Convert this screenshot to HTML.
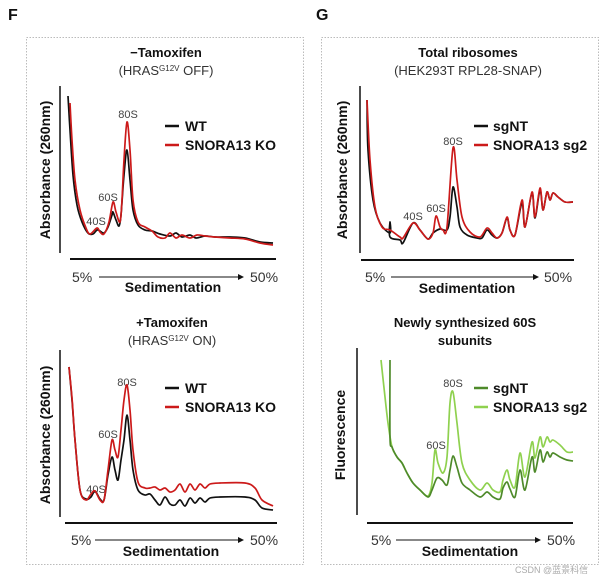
<!DOCTYPE html>
<html><head><meta charset="utf-8"><style>
body{margin:0;background:#fff}
svg{display:block;font-family:"Liberation Sans","Noto Sans CJK SC",sans-serif}
.b{font-weight:bold}
</style></head><body>
<svg id="fig" width="611" height="579" viewBox="0 0 611 579">
<defs><marker id="ah" markerWidth="6" markerHeight="6" refX="5" refY="3" orient="auto"><path d="M0,0 L6,3 L0,6 z" fill="#111"/></marker></defs>
<rect x="0" y="0" width="611" height="579" fill="#fff"/>
<text x="8" y="20" font-size="16" class="b" fill="#111">F</text>
<text x="316" y="20" font-size="16" class="b" fill="#111">G</text>
<rect x="26.5" y="37.5" width="277" height="527" fill="none" stroke="#bbb" stroke-dasharray="1.5,1.5"/>
<rect x="321.5" y="37.5" width="277" height="527" fill="none" stroke="#bbb" stroke-dasharray="1.5,1.5"/>

<!-- Top-left -->
<g>
<text x="166" y="57" font-size="13" class="b" text-anchor="middle" fill="#111">−Tamoxifen</text>
<text x="166" y="75" font-size="13" text-anchor="middle" fill="#333">(HRAS<tspan font-size="8" dy="-4">G12V</tspan><tspan dy="4"> OFF)</tspan></text>
<line x1="60" y1="86" x2="60" y2="253" stroke="#111" stroke-width="1.5"/>
<text transform="translate(50,170) rotate(-90)" font-size="14" class="b" text-anchor="middle" fill="#111">Absorbance (260nm)</text>
<line x1="70" y1="259" x2="276" y2="259" stroke="#111" stroke-width="2"/>
<text x="72" y="282" font-size="14" fill="#333">5%</text>
<line x1="99" y1="277" x2="243" y2="277" stroke="#111" stroke-width="1" marker-end="url(#ah)"/>
<text x="250" y="282" font-size="14" fill="#333">50%</text>
<text x="173" y="292" font-size="14" class="b" text-anchor="middle" fill="#111">Sedimentation</text>
<text x="128" y="118" font-size="11" text-anchor="middle" fill="#444">80S</text>
<text x="108" y="201" font-size="11" text-anchor="middle" fill="#444">60S</text>
<text x="96" y="225" font-size="11" text-anchor="middle" fill="#444">40S</text>
<line x1="165" y1="126" x2="179" y2="126" stroke="#111" stroke-width="2.5"/>
<text x="185" y="131" font-size="14" class="b" fill="#111">WT</text>
<line x1="165" y1="145" x2="179" y2="145" stroke="#cc1a1a" stroke-width="2.5"/>
<text x="185" y="150" font-size="14" class="b" fill="#111">SNORA13 KO</text>
<g id="p1"></g>
</g>

<!-- Bottom-left -->
<g>
<text x="172" y="327" font-size="13" class="b" text-anchor="middle" fill="#111">+Tamoxifen</text>
<text x="172" y="345" font-size="13" text-anchor="middle" fill="#333">(HRAS<tspan font-size="8" dy="-4">G12V</tspan><tspan dy="4"> ON)</tspan></text>
<line x1="60" y1="350" x2="60" y2="517" stroke="#111" stroke-width="1.5"/>
<text transform="translate(50,435) rotate(-90)" font-size="14" class="b" text-anchor="middle" fill="#111">Absorbance (260nm)</text>
<line x1="65" y1="523" x2="277" y2="523" stroke="#111" stroke-width="2"/>
<text x="71" y="545" font-size="14" fill="#333">5%</text>
<line x1="95" y1="540" x2="243" y2="540" stroke="#111" stroke-width="1" marker-end="url(#ah)"/>
<text x="250" y="545" font-size="14" fill="#333">50%</text>
<text x="171" y="556" font-size="14" class="b" text-anchor="middle" fill="#111">Sedimentation</text>
<text x="127" y="386" font-size="11" text-anchor="middle" fill="#444">80S</text>
<text x="108" y="438" font-size="11" text-anchor="middle" fill="#444">60S</text>
<text x="96" y="493" font-size="11" text-anchor="middle" fill="#444">40S</text>
<line x1="165" y1="388" x2="179" y2="388" stroke="#111" stroke-width="2.5"/>
<text x="185" y="393" font-size="14" class="b" fill="#111">WT</text>
<line x1="165" y1="407" x2="179" y2="407" stroke="#cc1a1a" stroke-width="2.5"/>
<text x="185" y="412" font-size="14" class="b" fill="#111">SNORA13 KO</text>
<g id="p2"></g>
</g>

<!-- Top-right -->
<g>
<text x="468" y="57" font-size="13" class="b" text-anchor="middle" fill="#111">Total ribosomes</text>
<text x="468" y="75" font-size="13" text-anchor="middle" fill="#333">(HEK293T RPL28-SNAP)</text>
<line x1="360" y1="86" x2="360" y2="253" stroke="#111" stroke-width="1.5"/>
<text transform="translate(347,170) rotate(-90)" font-size="14" class="b" text-anchor="middle" fill="#111">Absorbance (260nm)</text>
<line x1="361" y1="260" x2="574" y2="260" stroke="#111" stroke-width="2"/>
<text x="365" y="282" font-size="14" fill="#333">5%</text>
<line x1="391" y1="277" x2="538" y2="277" stroke="#111" stroke-width="1" marker-end="url(#ah)"/>
<text x="544" y="282" font-size="14" fill="#333">50%</text>
<text x="467" y="293" font-size="14" class="b" text-anchor="middle" fill="#111">Sedimentation</text>
<text x="453" y="145" font-size="11" text-anchor="middle" fill="#444">80S</text>
<text x="436" y="212" font-size="11" text-anchor="middle" fill="#444">60S</text>
<text x="413" y="220" font-size="11" text-anchor="middle" fill="#444">40S</text>
<line x1="474" y1="126" x2="488" y2="126" stroke="#111" stroke-width="2.5"/>
<text x="493" y="131" font-size="14" class="b" fill="#111">sgNT</text>
<line x1="474" y1="145" x2="488" y2="145" stroke="#cc1a1a" stroke-width="2.5"/>
<text x="493" y="150" font-size="14" class="b" fill="#111">SNORA13 sg2</text>
<g id="p3"></g>
</g>

<!-- Bottom-right -->
<g>
<text x="465" y="327" font-size="13" class="b" text-anchor="middle" fill="#111">Newly synthesized 60S</text>
<text x="465" y="345" font-size="13" class="b" text-anchor="middle" fill="#111">subunits</text>
<line x1="357" y1="348" x2="357" y2="515" stroke="#111" stroke-width="1.5"/>
<text transform="translate(345,435) rotate(-90)" font-size="14" class="b" text-anchor="middle" fill="#111">Fluorescence</text>
<line x1="367" y1="523" x2="573" y2="523" stroke="#111" stroke-width="2"/>
<text x="371" y="545" font-size="14" fill="#333">5%</text>
<line x1="396" y1="540" x2="540" y2="540" stroke="#111" stroke-width="1" marker-end="url(#ah)"/>
<text x="547" y="545" font-size="14" fill="#333">50%</text>
<text x="470" y="556" font-size="14" class="b" text-anchor="middle" fill="#111">Sedimentation</text>
<text x="453" y="387" font-size="11" text-anchor="middle" fill="#444">80S</text>
<text x="436" y="449" font-size="11" text-anchor="middle" fill="#444">60S</text>
<line x1="474" y1="388" x2="488" y2="388" stroke="#4e8a2a" stroke-width="2.5"/>
<text x="493" y="393" font-size="14" class="b" fill="#111">sgNT</text>
<line x1="474" y1="407" x2="488" y2="407" stroke="#8fd14f" stroke-width="2.5"/>
<text x="493" y="412" font-size="14" class="b" fill="#111">SNORA13 sg2</text>
<g id="p4"></g>
</g>
<text x="515" y="573" font-size="9" fill="#aaa">CSDN @蓝景科信</text>
</svg>
<script>
// Panel F top (-Tamoxifen)
const f1WtX=[0,2,5,9,14,20,25,29,32,36,40,44,45,48,51,53,56,59,62,65,70,77,84,92,102,108,114,122,128,137,147,162,177,192,205];
const f1WtY=[154,120,75,45,28,17,16,20,19,17,23,35,38,30,24,35,75,100,70,40,25,20,19,16,14,17,13,15,12,14,13,13,12,8,7];
const f1KoX=[2,4,7,12,18,22,29,32,36,41,45,48,52,54,56,59,62,65,70,77,84,90,97,102,108,114,122,129,137,147,162,177,192,205];
const f1KoY=[147,110,70,40,22,16,22,18,16,28,48,38,28,50,90,128,100,50,28,23,19,13,12,17,12,15,12,15,14,13,12,11,7,5];
// Panel F bottom (+Tamoxifen)
const f2X=[1,4,7,12,18,23,27,32,36,40,44,47,50,53,56,59,62,65,70,77,82,87,92,97,102,107,112,117,122,127,132,137,142,152,177,187,194,205];
const f2WtY=[148,115,75,25,16,18,24,16,15,40,58,45,35,55,75,100,75,45,25,20,21,15,10,18,11,10,15,9,17,12,17,13,17,18,18,15,7,5];
const f2KoY=[148,117,75,25,15,21,24,15,15,45,75,65,58,85,115,130,105,65,33,27,27,28,25,27,23,25,31,23,31,25,31,27,31,32,32,27,15,9];
// Panel G top (total ribosomes)
const g1NtX=[0,1,6,13,23,23,23,33,36,46,53,61,66,73,80,83,86,90,93,100,110,115,120,125,130,135,140,143,148,155,158,165,168,173,176,180,183,186,191,198,206];
const g1NtY=[150,100,50,27,17,28,13,10,7,27,20,11,17,21,20,33,63,43,23,15,12,12,20,15,12,17,32,20,15,47,23,57,32,60,40,58,50,57,53,48,48];
const g1Sg2X=[0,3,8,15,23,33,36,46,53,61,66,69,73,76,80,86,90,95,103,113,120,125,130,135,140,143,148,155,158,165,168,173,176,180,183,186,191,198,206];
const g1Sg2Y=[150,90,43,23,20,13,12,27,20,11,17,34,23,20,23,102,70,33,18,13,22,17,12,17,33,20,15,50,23,58,33,62,40,58,50,57,53,48,48];
// Panel G bottom (newly synthesized 60S)
const g2NtX=[23,23,25,30,35,40,46,53,61,65,70,75,80,83,86,90,95,103,113,120,126,133,136,140,143,148,153,158,165,168,173,176,180,183,186,193,200,206];
const g2NtY=[160,83,73,63,57,47,37,30,23,30,42,40,35,50,64,53,37,30,23,28,23,21,32,38,31,23,50,30,63,48,70,58,68,63,67,63,60,59];
const g2Sg2X=[14,18,21,25,30,35,40,46,53,61,65,68,71,76,80,83,86,90,95,103,113,120,126,133,136,140,143,148,153,158,165,168,173,176,180,183,186,193,200,206];
const g2Sg2Y=[160,123,97,73,63,57,47,37,30,24,37,70,57,47,63,117,128,97,57,40,30,37,30,28,40,50,40,33,67,43,78,62,83,73,83,78,80,75,68,68];

const NS='http://www.w3.org/2000/svg';
function axes(x0,yBase){return {x:v=>x0+v,y:v=>yBase-v};}
function draw(gid,ax,xs,ys,color,name){
  const pts=xs.map((v,i)=>[ax.x(v),ax.y(ys[i])]);
  let d='M'+pts[0][0].toFixed(1)+','+pts[0][1].toFixed(1);
  for(let i=0;i<pts.length-1;i++){
    const p0=pts[Math.max(0,i-1)],p1=pts[i],p2=pts[i+1],p3=pts[Math.min(pts.length-1,i+2)];
    const t=0.16;
    const c1=[p1[0]+(p2[0]-p0[0])*t,p1[1]+(p2[1]-p0[1])*t];
    const c2=[p2[0]-(p3[0]-p1[0])*t,p2[1]-(p3[1]-p1[1])*t];
    d+='C'+c1[0].toFixed(1)+','+c1[1].toFixed(1)+' '+c2[0].toFixed(1)+','+c2[1].toFixed(1)+' '+p2[0].toFixed(1)+','+p2[1].toFixed(1);
  }
  const p=document.createElementNS(NS,'path');
  p.setAttribute('d',d);
  p.setAttribute('fill','none');
  p.setAttribute('stroke',color);
  p.setAttribute('stroke-width','1.7');
  p.setAttribute('stroke-linejoin','round');
  
  
  document.getElementById(gid).appendChild(p);
}
const a1=axes(68,250),a2=axes(68,515),a3=axes(367,250),a4=axes(367,520);
draw('p1',a1,f1WtX,f1WtY,'#111','series-wt');
draw('p1',a1,f1KoX,f1KoY,'#cc1a1a','series-snora13-ko');
draw('p2',a2,f2X,f2WtY,'#111','series-wt');
draw('p2',a2,f2X,f2KoY,'#cc1a1a','series-snora13-ko');
draw('p3',a3,g1NtX,g1NtY,'#111','series-sgnt');
draw('p3',a3,g1Sg2X,g1Sg2Y,'#cc1a1a','series-snora13-sg2');
draw('p4',a4,g2Sg2X,g2Sg2Y,'#8fd14f','series-snora13-sg2');
draw('p4',a4,g2NtX,g2NtY,'#4e8a2a','series-sgnt');
</script>
</body></html>
